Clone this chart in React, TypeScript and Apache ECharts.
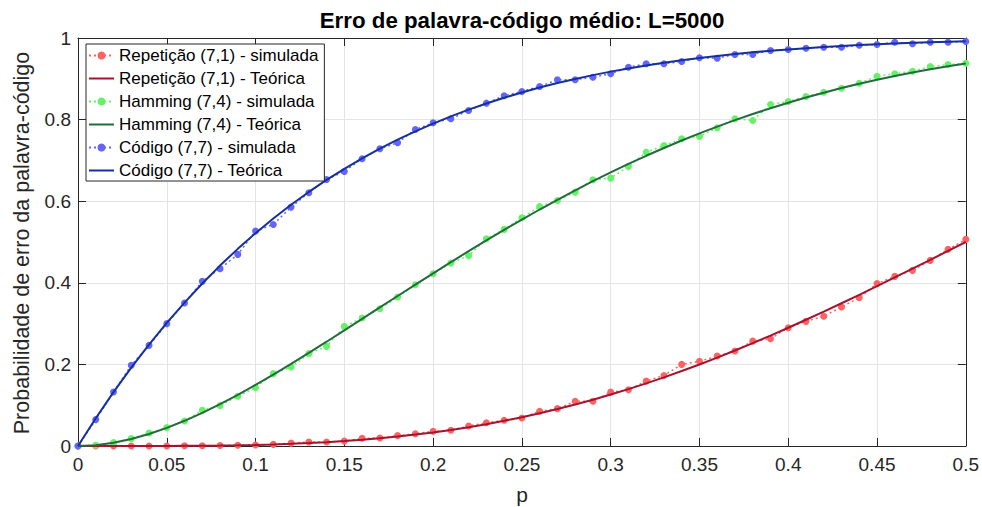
import React, { useEffect, useRef } from "react";
import * as echarts from "echarts";

const pValues = [
  0, 0.01, 0.02, 0.03, 0.04, 0.05, 0.06, 0.07, 0.08, 0.09, 0.1, 0.11, 0.12, 0.13, 0.14, 0.15, 0.16,
  0.17, 0.18, 0.19, 0.2, 0.21, 0.22, 0.23, 0.24, 0.25, 0.26, 0.27, 0.28, 0.29, 0.3, 0.31, 0.32, 0.33,
  0.34, 0.35, 0.36, 0.37, 0.38, 0.39, 0.4, 0.41, 0.42, 0.43, 0.44, 0.45, 0.46, 0.47, 0.48, 0.49, 0.5,
];

const repSim = [
  0, 0, 0, 0, 0.0001, 0.0002, 0.0004, 0.0008, 0.0012, 0.0018, 0.0026, 0.004, 0.007, 0.01, 0.01,
  0.012, 0.019, 0.0196, 0.0255, 0.03, 0.036, 0.0385, 0.049, 0.057, 0.063, 0.0686, 0.085, 0.0916,
  0.1095, 0.1095, 0.132, 0.138, 0.159, 0.173, 0.2, 0.2075, 0.2205, 0.233, 0.257, 0.263, 0.29, 0.3055,
  0.318, 0.3405, 0.3635, 0.398, 0.4157, 0.4305, 0.455, 0.482, 0.5064,
];

const repTheory = [
  0, 0.0000003, 0.0000053, 0.0000264, 0.0000813, 0.0001936, 0.0003915, 0.0007072, 0.0011763,
  0.0018366, 0.002728, 0.0038916, 0.0053692, 0.0072028, 0.0094338, 0.012103, 0.01525, 0.018913,
  0.023128, 0.027928, 0.033344, 0.039406, 0.046137, 0.053561, 0.061695, 0.070557, 0.080156,
  0.090501, 0.101595, 0.113443, 0.126036, 0.139369, 0.153432, 0.168214, 0.183692, 0.199848,
  0.216651, 0.234081, 0.252106, 0.270687, 0.289792, 0.309381, 0.329411, 0.349838, 0.370623,
  0.391713, 0.413058, 0.434612, 0.456319, 0.478132, 0.5,
];

const hamSim = [
  0, 0.0015, 0.0083, 0.0181, 0.0318, 0.0451, 0.0612, 0.0875, 0.099, 0.1218, 0.1431, 0.1774, 0.1935,
  0.2264, 0.2442, 0.2932, 0.3136, 0.3366, 0.365, 0.3954, 0.4223, 0.4483, 0.4664, 0.5081, 0.5309,
  0.5595, 0.5872, 0.6019, 0.6222, 0.6526, 0.6565, 0.6852, 0.7202, 0.7366, 0.7531, 0.7587, 0.78,
  0.802, 0.7979, 0.8371, 0.8444, 0.8567, 0.8672, 0.877, 0.8893, 0.9064, 0.9123, 0.9187, 0.9302,
  0.9351, 0.9383,
];

const hamTheory = [
  0, 0.00203, 0.00785, 0.0171, 0.02938, 0.04438, 0.06178, 0.08127, 0.1026, 0.12548, 0.14969,
  0.17501, 0.20123, 0.22816, 0.25559, 0.28341, 0.31145, 0.33958, 0.36766, 0.3956, 0.42328, 0.45064,
  0.47756, 0.50396, 0.52981, 0.55506, 0.57965, 0.60352, 0.62662, 0.64901, 0.67059, 0.69137, 0.7113,
  0.73043, 0.74874, 0.7662, 0.78285, 0.79868, 0.81367, 0.82786, 0.84137, 0.85409, 0.86599, 0.87728,
  0.88774, 0.89759, 0.90683, 0.91531, 0.92329, 0.9307, 0.9375,
];

const codSim = [
  0, 0.0647, 0.1323, 0.1977, 0.2467, 0.2999, 0.3503, 0.4035, 0.4346, 0.4696, 0.527, 0.5431, 0.5855,
  0.6208, 0.6534, 0.673, 0.7041, 0.7286, 0.7433, 0.7758, 0.7923, 0.802, 0.8224, 0.8403, 0.8584,
  0.869, 0.8812, 0.8976, 0.8976, 0.904, 0.9123, 0.9285, 0.9368, 0.9368, 0.9424, 0.9515, 0.9505,
  0.9596, 0.9596, 0.9694, 0.9718, 0.975, 0.9775, 0.9775, 0.9824, 0.984, 0.9897, 0.9858, 0.9897,
  0.9897, 0.9914,
];

const codTheory = [
  0, 0.0679, 0.1319, 0.192, 0.2486, 0.3017, 0.3515, 0.3983, 0.4422, 0.4832, 0.5217, 0.5577, 0.5913,
  0.6227, 0.6521, 0.6794, 0.7049, 0.7286, 0.7507, 0.7712, 0.7903, 0.808, 0.8244, 0.8395, 0.8535,
  0.8665, 0.8785, 0.8895, 0.8997, 0.909, 0.9176, 0.9255, 0.9328, 0.9394, 0.9454, 0.951, 0.956,
  0.9606, 0.9648, 0.9686, 0.972, 0.9751, 0.9779, 0.9805, 0.9827, 0.9848, 0.9866, 0.9883, 0.9897,
  0.991, 0.9922,
];

const xTickLabels = ["0", "0.05", "0.1", "0.15", "0.2", "0.25", "0.3", "0.35", "0.4", "0.45", "0.5"];
const yTickLabels = ["0", "0.2", "0.4", "0.6", "0.8", "1"];

const seriesNames = [
  "Repetição (7,1) - simulada",
  "Repetição (7,1) - Teórica",
  "Hamming (7,4) - simulada",
  "Hamming (7,4) - Teórica",
  "Código (7,7) - simulada",
  "Código (7,7) - Teórica",
];

const titleText = "Erro de palavra-código médio: L=5000";
const xLabelText = "p";
const yLabelText = "Probabilidade de erro da palavra-código";

const FONT = "'Liberation Sans', Arial, Helvetica, sans-serif";
const LINE_ICON = "path://M0,0 L25,0 L25,2 L0,2 Z";

export default function App() {
  const ref = useRef<HTMLDivElement>(null);

  useEffect(() => {
    if (!ref.current) return;
    const chart = echarts.init(ref.current, undefined, { renderer: "svg" });

    const pair = (ys: number[]) => pValues.map((x, i) => [x, ys[i]]);

    const simSeries = (name: string, ys: number[], color: string) => ({
      name,
      type: "line",
      data: pair(ys),
      symbol: "circle",
      symbolSize: 7,
      showSymbol: true,
      itemStyle: { color },
      lineStyle: { color, width: 1.5, type: [2, 3] },
      z: 2,
    });
    const theorySeries = (name: string, ys: number[], color: string) => ({
      name,
      type: "line",
      data: pair(ys),
      symbol: "none",
      itemStyle: { color },
      lineStyle: { color, width: 2 },
      z: 3,
    });

    const axisLineStyle = { color: "#262626", width: 1 };

    const option: any = {
      animation: false,
      backgroundColor: "#ffffff",
      textStyle: { fontFamily: FONT },
      grid: { left: 78, right: 16, top: 38, bottom: 61, containLabel: false },
      xAxis: [
        {
          type: "value",
          min: 0,
          max: 0.5,
          interval: 0.05,
          axisLine: { show: true, onZero: false, lineStyle: axisLineStyle },
          axisTick: { show: true, inside: true, length: 8, lineStyle: axisLineStyle },
          axisLabel: {
            show: true,
            margin: 9,
            color: "#262626",
            fontSize: 19,
            fontFamily: FONT,
            formatter: (v: number) => xTickLabels[Math.round(v / 0.05)] ?? "",
          },
          splitLine: { show: true, lineStyle: { color: "#e4e4e4", width: 1 } },
        },
        {
          type: "value",
          position: "top",
          min: 0,
          max: 0.5,
          interval: 0.05,
          axisLine: { show: true, onZero: false, lineStyle: axisLineStyle },
          axisTick: { show: true, inside: true, length: 8, lineStyle: axisLineStyle },
          axisLabel: { show: false },
          splitLine: { show: false },
        },
      ],
      yAxis: [
        {
          type: "value",
          min: 0,
          max: 1,
          interval: 0.2,
          axisLine: { show: true, onZero: false, lineStyle: axisLineStyle },
          axisTick: { show: true, inside: true, length: 8, lineStyle: axisLineStyle },
          axisLabel: {
            show: true,
            margin: 7,
            color: "#262626",
            fontSize: 19,
            fontFamily: FONT,
            formatter: (v: number) => yTickLabels[Math.round(v / 0.2)] ?? "",
          },
          splitLine: { show: true, lineStyle: { color: "#e4e4e4", width: 1 } },
        },
        {
          type: "value",
          position: "right",
          min: 0,
          max: 1,
          interval: 0.2,
          axisLine: { show: true, onZero: false, lineStyle: axisLineStyle },
          axisTick: { show: true, inside: true, length: 8, lineStyle: axisLineStyle },
          axisLabel: { show: false },
          splitLine: { show: false },
        },
      ],
      legend: {
        orient: "vertical",
        left: 86,
        top: 44,
        padding: [2, 6, 1, 2],
        itemWidth: 25,
        itemHeight: 10,
        itemGap: 4,
        backgroundColor: "#ffffff",
        borderColor: "#262626",
        borderWidth: 1,
        borderRadius: 0,
        textStyle: { fontSize: 17, fontFamily: FONT, color: "#000000", lineHeight: 19 },
        data: seriesNames.map((n, i) => (i % 2 === 1 ? { name: n, icon: LINE_ICON } : { name: n })),
      },
      series: [
        simSeries(seriesNames[0], repSim, "#ff6262"),
        theorySeries(seriesNames[1], repTheory, "#a3142f"),
        simSeries(seriesNames[2], hamSim, "#66f266"),
        theorySeries(seriesNames[3], hamTheory, "#226b3d"),
        simSeries(seriesNames[4], codSim, "#6464ff"),
        theorySeries(seriesNames[5], codTheory, "#15309c"),
      ],
      graphic: [
        {
          type: "text",
          x: 522,
          y: 20,
          style: {
            text: titleText,
            align: "center",
            verticalAlign: "middle",
            fontSize: 22.3,
            fontWeight: "bold",
            fontFamily: FONT,
            fill: "#000000",
          },
        },
        {
          type: "text",
          x: 522,
          y: 494,
          style: {
            text: xLabelText,
            align: "center",
            verticalAlign: "middle",
            fontSize: 21,
            fontFamily: FONT,
            fill: "#262626",
          },
        },
        {
          type: "text",
          x: 22,
          y: 243,
          rotation: Math.PI / 2,
          style: {
            text: yLabelText,
            align: "center",
            verticalAlign: "middle",
            fontSize: 21.5,
            fontFamily: FONT,
            fill: "#262626",
          },
        },
      ],
    };

    chart.setOption(option);
    return () => chart.dispose();
  }, []);

  return (
    <div
      ref={ref}
      style={{ position: "fixed", left: 0, top: 0, width: 982, height: 507, overflow: "hidden" }}
    />
  );
}
